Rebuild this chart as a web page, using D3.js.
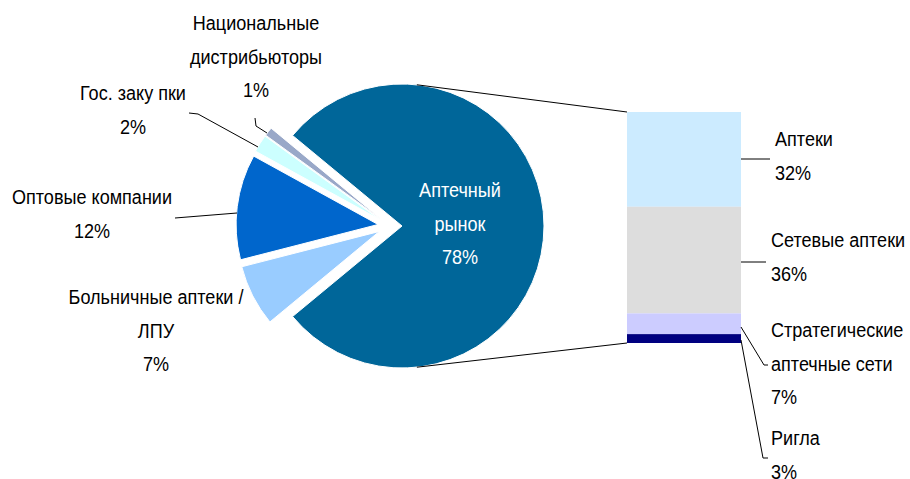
<!DOCTYPE html>
<html>
<head>
<meta charset="utf-8">
<script src="https://cdn.jsdelivr.net/npm/d3@7"></script>
<style>
  body { margin: 0; background: #fff; }
  text { font-family: "Liberation Sans", Arial, sans-serif; font-size: 21px; }
</style>
</head>
<body>
<script>
// pie data (percent of total market)
var pieLabels = [["Аптечный", "рынок"], ["Больничные аптеки /", "ЛПУ"], ["Оптовые компании"], ["Гос. заку пки"], ["Национальные", "дистрибьюторы"]];
var pieValues = [78, 7, 12, 2, 1];
var pieColors = ["#006699", "#99CCFF", "#0066CC", "#CCFFFF", "#99A8C8"];

// breakdown of the big slice
var barLabels = [["Аптеки"], ["Сетевые аптеки"], ["Стратегические", "аптечные сети"], ["Ригла"]];
var barValues = [32, 36, 7, 3];
var barColors = ["#CCEBFF", "#DDDDDD", "#CCCCFF", "#000080"];

var width = 910, height = 479;
var cx = 390, cy = 226, radius = 142, explode = 12;
var squeeze = 0.86; // narrow font look

var svg = d3.select("body").append("svg")
  .attr("width", width)
  .attr("height", height);

// big slice is centered on the right side
var bigSpan = pieValues[0] / d3.sum(pieValues) * 2 * Math.PI;
var start = Math.PI / 2 - bigSpan / 2;

var pie = d3.pie().sort(null).startAngle(start).endAngle(start + 2 * Math.PI);
var arcs = pie(pieValues);
var arc = d3.arc().innerRadius(0).outerRadius(radius);

function offset(d) {
  var mid = (d.startAngle + d.endAngle) / 2;
  return [cx + explode * Math.sin(mid), cy - explode * Math.cos(mid)];
}

svg.selectAll("path.slice")
  .data(arcs)
  .enter().append("path")
    .attr("class", "slice")
    .attr("d", arc)
    .attr("transform", function(d) { var o = offset(d); return "translate(" + o[0] + "," + o[1] + ")"; })
    .style("fill", function(d, i) { return pieColors[i]; })
    .style("stroke", "#fff")
    .style("stroke-width", 1);

// bar of the big slice
var barX = 627, barW = 114;
var y = d3.scaleLinear().domain([0, d3.sum(barValues)]).range([112, 343]);
var cum = d3.cumsum([0].concat(barValues));

svg.selectAll("rect.seg")
  .data(barValues)
  .enter().append("rect")
    .attr("class", "seg")
    .attr("x", barX)
    .attr("y", function(d, i) { return y(cum[i]); })
    .attr("width", barW)
    .attr("height", function(d) { return y(d) - y(0); })
    .style("fill", function(d, i) { return barColors[i]; });

// connector lines from pie to bar
var o0 = offset(arcs[0]);
var topPt = [o0[0] + radius * Math.sin(0.105), o0[1] - radius * Math.cos(0.105)];
var botPt = [o0[0] + radius * Math.sin(Math.PI - 0.105), o0[1] - radius * Math.cos(Math.PI - 0.105)];
svg.append("line")
  .attr("x1", topPt[0]).attr("y1", topPt[1])
  .attr("x2", barX).attr("y2", y(0))
  .style("stroke", "#000").style("stroke-width", 1);
svg.append("line")
  .attr("x1", botPt[0]).attr("y1", botPt[1])
  .attr("x2", barX).attr("y2", y(d3.sum(barValues)))
  .style("stroke", "#000").style("stroke-width", 1);

var lh = 33.5;

function block(x, yBase, lines, anchor, fill) {
  lines.forEach(function(s, i) {
    svg.append("text")
      .attr("transform", "translate(" + x + "," + (yBase + i * lh) + ") scale(" + squeeze + ",1)")
      .attr("text-anchor", anchor)
      .style("fill", fill || "#000")
      .text(s);
  });
}

// pie labels
var pieLabelPos = [[460, 197, "#fff"], [156, 304], [92, 204], [133, 100], [256, 30]];
arcs.forEach(function(d, i) {
  var p = pieLabelPos[i];
  block(p[0], p[1], pieLabels[i].concat([pieValues[i] + "%"]), "middle", p[2]);
});

// bar labels
var barLabelPos = [[775, 146], [771, 247], [771, 337], [771, 445]];
barValues.forEach(function(v, i) {
  var p = barLabelPos[i];
  block(p[0], p[1], barLabels[i].concat([v + "%"]), "start");
});

// leader lines
var leaders = [
  [[255, 118], [256, 126], [267, 133]],
  [[189, 113], [198, 114], [258, 147]],
  [[175, 218], [237, 213]],
  [[741, 159], [770, 159]],
  [[741, 262], [766, 262]],
  [[741, 327], [764, 365], [768, 365]],
  [[741, 340], [763, 458], [768, 458]]
];
svg.selectAll("path.leader")
  .data(leaders)
  .enter().append("path")
    .attr("class", "leader")
    .attr("d", d3.line())
    .style("fill", "none")
    .style("stroke", "#000")
    .style("stroke-width", 1);
</script>
</body>
</html>
